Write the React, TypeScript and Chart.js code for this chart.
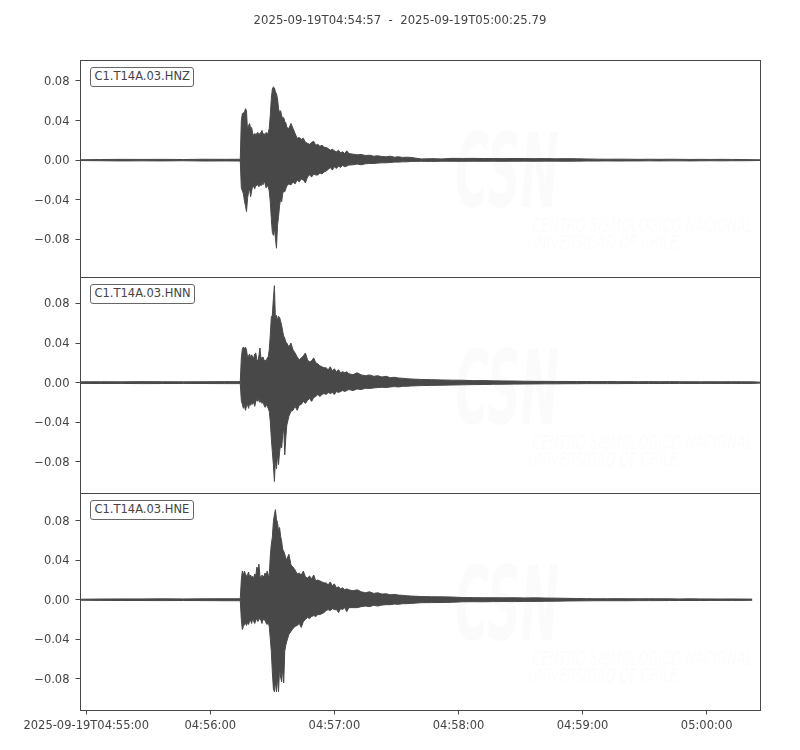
import React, { useEffect, useRef } from "react";
import { Chart, registerables } from "chart.js";

Chart.register(...registerables);

// ---------------- data ----------------
const TITLE = "2025-09-19T04:54:57  -  2025-09-19T05:00:25.79";
const TRACE_NAMES = ["C1.T14A.03.HNZ", "C1.T14A.03.HNN", "C1.T14A.03.HNE"];

// seconds after 2025-09-19T04:54:57
const TIMES = [
  0, 10, 20, 30, 40, 50, 60, 70, 77.5,
  78, 78.5, 79, 79.5, 80, 80.5, 81, 81.5, 82, 82.5,
  83, 83.5, 84, 84.5, 85, 85.5, 86, 86.5, 87, 87.5,
  88, 88.5, 89, 89.5, 90, 90.5, 91, 91.5, 92, 92.5,
  93, 93.5, 94, 94.5, 95, 95.5, 96, 96.5, 97, 97.5,
  98, 98.5, 99, 99.5,
  100, 101, 102, 103, 104, 105, 106, 107, 108, 109,
  110, 111, 112, 113, 114, 115, 116, 117, 118, 119,
  120, 121, 122, 123, 124, 125, 126, 127, 128, 129,
  130,
  132, 134, 136, 138, 140, 142, 144, 146, 148, 150, 152, 154, 156, 158, 160,
  165, 170, 175, 180, 185, 190, 195, 200, 205, 210,
  215, 220, 225, 230, 235, 240, 245, 250, 255, 260,
  265, 270, 275, 280, 285, 290, 295, 300, 305, 310,
  315, 320, 325,
  328.79,
];

// per-time-bin maximum / minimum of each trace
const HNZ_MAX = [
  0.0004, 0.0006, 0.0008, 0.0007, 0.0008, 0.0006, 0.0009, 0.0008, 0.0009,
  0.040, 0.047, 0.048, 0.048, 0.052, 0.050, 0.030, 0.035, 0.037, 0.032,
  0.033, 0.027, 0.025, 0.027, 0.026, 0.027, 0.028, 0.026, 0.027, 0.028,
  0.030, 0.026, 0.027, 0.025, 0.028, 0.026, 0.028, 0.032, 0.045, 0.062,
  0.072, 0.074, 0.073, 0.069, 0.067, 0.062, 0.052, 0.048, 0.050, 0.045,
  0.042, 0.043, 0.039, 0.038,
  0.033, 0.032, 0.037, 0.032, 0.027, 0.022, 0.023, 0.021, 0.022, 0.018,
  0.017, 0.016, 0.018, 0.019, 0.015, 0.016, 0.014, 0.015, 0.013, 0.0128,
  0.0118, 0.010, 0.011, 0.0094, 0.0084, 0.010, 0.0074, 0.0084, 0.0067, 0.0094,
  0.0067,
  0.006, 0.0054, 0.0057, 0.0047, 0.005, 0.004, 0.0044, 0.0037, 0.0034, 0.004, 0.003, 0.0034, 0.0027, 0.003, 0.0027,
  0.0012, 0.0015, 0.0012, 0.0018, 0.0017, 0.0018, 0.0016, 0.0017, 0.0015, 0.0017,
  0.0016, 0.0015, 0.0016, 0.0014, 0.0015, 0.0014, 0.0012, 0.001, 0.0009, 0.001,
  0.0009, 0.0008, 0.0009, 0.0008, 0.0009, 0.0008, 0.0007, 0.0008, 0.0007, 0.0008,
  0.0007, 0.0006, 0.0005,
  0.0003,
];
const HNZ_MIN = [
  -0.0004, -0.0006, -0.0008, -0.0007, -0.0008, -0.0006, -0.0009, -0.0008, -0.0009,
  -0.028, -0.031, -0.034, -0.041, -0.046, -0.052, -0.039, -0.032, -0.029, -0.037,
  -0.031, -0.026, -0.027, -0.029, -0.025, -0.026, -0.024, -0.027, -0.023, -0.026,
  -0.022, -0.025, -0.020, -0.024, -0.028, -0.026, -0.027, -0.031, -0.042, -0.059,
  -0.073, -0.076, -0.069, -0.079, -0.089, -0.066, -0.057, -0.046, -0.039, -0.042,
  -0.034, -0.031, -0.032, -0.029,
  -0.026, -0.024, -0.025, -0.022, -0.024, -0.020, -0.022, -0.019, -0.020, -0.023,
  -0.017, -0.015, -0.017, -0.014, -0.015, -0.015, -0.013, -0.014, -0.012, -0.011,
  -0.0094, -0.0074, -0.010, -0.0067, -0.0084, -0.006, -0.0074, -0.0054, -0.0067, -0.006,
  -0.005,
  -0.0047, -0.004, -0.0047, -0.0037, -0.0034, -0.0034, -0.003, -0.0027, -0.0027, -0.0024, -0.002, -0.002, -0.0017, -0.0017, -0.0013,
  -0.0012, -0.0013, -0.0011, -0.0012, -0.0012, -0.0011, -0.0012, -0.0011, -0.0012, -0.0011,
  -0.001, -0.0011, -0.001, -0.001, -0.0011, -0.001, -0.0009, -0.0009, -0.0008, -0.0009,
  -0.0008, -0.0008, -0.0007, -0.0008, -0.0007, -0.0007, -0.0008, -0.0007, -0.0006, -0.0007,
  -0.0006, -0.0006, -0.0005,
  -0.0003,
];

const HNN_MAX = [
  0.0008, 0.0009, 0.0008, 0.0010, 0.0009, 0.0008, 0.0009, 0.0010, 0.0010,
  0.025, 0.034, 0.036, 0.034, 0.036, 0.033, 0.026, 0.027, 0.029, 0.025,
  0.028, 0.026, 0.025, 0.029, 0.030, 0.023, 0.022, 0.027, 0.035, 0.025,
  0.025, 0.026, 0.022, 0.023, 0.021, 0.025, 0.026, 0.033, 0.048, 0.066,
  0.068, 0.085, 0.098, 0.063, 0.068, 0.063, 0.067, 0.066, 0.062, 0.058,
  0.052, 0.047, 0.045, 0.041,
  0.040, 0.036, 0.040, 0.033, 0.030, 0.026, 0.023, 0.025, 0.027, 0.030,
  0.023, 0.021, 0.022, 0.025, 0.020, 0.019, 0.017, 0.016, 0.015, 0.015,
  0.013, 0.016, 0.012, 0.014, 0.011, 0.013, 0.010, 0.011, 0.010, 0.011,
  0.009,
  0.008, 0.010, 0.0078, 0.007, 0.0078, 0.0064, 0.007, 0.0057, 0.0064, 0.005, 0.0054, 0.0047, 0.0044, 0.004, 0.0037,
  0.0032, 0.003, 0.0027, 0.0025, 0.0024, 0.002, 0.0021, 0.0018, 0.0017, 0.0016,
  0.0014, 0.0013, 0.0013, 0.0012, 0.0012, 0.0011, 0.0011, 0.001, 0.0011, 0.001,
  0.001, 0.0009, 0.001, 0.0009, 0.001, 0.0009, 0.0009, 0.0008, 0.0009, 0.0008,
  0.0009, 0.0008, 0.0008,
  0.0005,
];
const HNN_MIN = [
  -0.0008, -0.0009, -0.0008, -0.0010, -0.0009, -0.0008, -0.0009, -0.0010, -0.0010,
  -0.018, -0.022, -0.026, -0.023, -0.028, -0.024, -0.022, -0.026, -0.021, -0.023,
  -0.020, -0.022, -0.019, -0.024, -0.019, -0.017, -0.019, -0.016, -0.020, -0.018,
  -0.021, -0.019, -0.023, -0.025, -0.022, -0.024, -0.026, -0.029, -0.039, -0.056,
  -0.070, -0.083, -0.100, -0.078, -0.087, -0.073, -0.083, -0.070, -0.063, -0.066,
  -0.053, -0.046, -0.073, -0.056,
  -0.043, -0.034, -0.029, -0.028, -0.024, -0.028, -0.023, -0.022, -0.019, -0.021,
  -0.018, -0.016, -0.019, -0.015, -0.014, -0.012, -0.014, -0.012, -0.011, -0.012,
  -0.010, -0.011, -0.010, -0.012, -0.009, -0.010, -0.009, -0.008, -0.009, -0.008,
  -0.007,
  -0.008, -0.0064, -0.007, -0.0057, -0.006, -0.0054, -0.005, -0.0047, -0.005, -0.0044, -0.004, -0.0044, -0.0037, -0.0037, -0.0034,
  -0.003, -0.0028, -0.0026, -0.0024, -0.0022, -0.002, -0.0019, -0.0017, -0.0016, -0.0015,
  -0.0014, -0.0013, -0.0012, -0.0012, -0.0011, -0.0011, -0.001, -0.001, -0.001, -0.001,
  -0.0009, -0.0009, -0.0009, -0.0009, -0.0009, -0.0008, -0.0009, -0.0008, -0.0008, -0.0008,
  -0.0008, -0.0008, -0.0008,
  -0.0005,
];

const HNE_MAX = [
  0.0005, 0.0007, 0.0008, 0.0008, 0.0009, 0.0008, 0.0009, 0.0010, 0.0010,
  0.020, 0.029, 0.025, 0.029, 0.026, 0.024, 0.025, 0.028, 0.023, 0.025,
  0.022, 0.024, 0.021, 0.026, 0.024, 0.033, 0.030, 0.036, 0.024, 0.022,
  0.025, 0.023, 0.024, 0.027, 0.024, 0.029, 0.025, 0.024, 0.044, 0.056,
  0.063, 0.079, 0.086, 0.091, 0.081, 0.078, 0.069, 0.073, 0.064, 0.059,
  0.051, 0.049, 0.046, 0.042,
  0.041, 0.046, 0.035, 0.033, 0.030, 0.026, 0.027, 0.025, 0.029, 0.023,
  0.022, 0.024, 0.021, 0.025, 0.019, 0.020, 0.019, 0.018, 0.017, 0.017,
  0.015, 0.018, 0.014, 0.016, 0.012, 0.013, 0.011, 0.012, 0.010, 0.011,
  0.010,
  0.009, 0.010, 0.008, 0.007, 0.008, 0.0064, 0.007, 0.0057, 0.006, 0.005, 0.0054, 0.0047, 0.0044, 0.004, 0.0037,
  0.0032, 0.003, 0.0029, 0.0027, 0.0022, 0.0021, 0.002, 0.002, 0.0019, 0.002,
  0.0018, 0.0019, 0.0017, 0.0016, 0.0014, 0.0012, 0.0011, 0.001, 0.001, 0.0011,
  0.001, 0.0009, 0.001, 0.0009, 0.0009, 0.0008, 0.0009, 0.0008, 0.0008, 0.0007,
  0.0008, 0.0007, 0.0006,
  null,
];
const HNE_MIN = [
  -0.0005, -0.0007, -0.0008, -0.0008, -0.0009, -0.0008, -0.0009, -0.0010, -0.0010,
  -0.020, -0.030, -0.027, -0.025, -0.024, -0.026, -0.023, -0.025, -0.022, -0.021,
  -0.024, -0.019, -0.022, -0.024, -0.021, -0.019, -0.022, -0.020, -0.019, -0.021,
  -0.024, -0.019, -0.021, -0.020, -0.024, -0.025, -0.023, -0.027, -0.039, -0.052,
  -0.073, -0.090, -0.093, -0.083, -0.093, -0.079, -0.093, -0.069, -0.078, -0.083,
  -0.069, -0.084, -0.052, -0.046,
  -0.042, -0.035, -0.032, -0.029, -0.027, -0.026, -0.024, -0.028, -0.022, -0.020,
  -0.018, -0.019, -0.017, -0.016, -0.017, -0.015, -0.015, -0.014, -0.013, -0.011,
  -0.010, -0.011, -0.009, -0.010, -0.010, -0.013, -0.009, -0.010, -0.008, -0.012,
  -0.008,
  -0.008, -0.008, -0.007, -0.0064, -0.007, -0.0057, -0.0064, -0.0054, -0.005, -0.005, -0.0044, -0.0047, -0.004, -0.004, -0.0037,
  -0.003, -0.0029, -0.0028, -0.0026, -0.0021, -0.002, -0.0021, -0.0019, -0.0018, -0.0019,
  -0.0017, -0.0017, -0.0016, -0.0015, -0.0013, -0.0012, -0.0011, -0.001, -0.001, -0.001,
  -0.001, -0.0009, -0.0009, -0.0009, -0.0008, -0.0008, -0.0008, -0.0008, -0.0007, -0.0007,
  -0.0007, -0.0007, -0.0006,
  null,
];

const X_MAX = 328.79;
const X_TICK_SECONDS = [3, 63, 123, 183, 243, 303];
const X_TICK_LABELS = ["2025-09-19T04:55:00", "04:56:00", "04:57:00", "04:58:00", "04:59:00", "05:00:00"];
const Y_TICKS = [-0.08, -0.04, 0, 0.04, 0.08];
const Y_MIN = [-0.1181, -0.1116, -0.1114];
const Y_MAX = [0.1012, 0.1068, 0.1078];

// ---------------- styling / layout ----------------
const INK = "#484848";
const TEXT = "#444444";
const FONT = "'DejaVu Sans', sans-serif";
const FONT_SIZE = 11.5;
const TITLE_SIZE = 11.7;
const PANEL_TOP = [60, 277, 493];
const PANEL_BOTTOM = [277, 493, 710];
const AXIS_W = 60;
const LEFT_PAD = 20;
const RIGHT_PAD = 40;
const XAXIS_H = 30;

const TRACES = [
  { name: TRACE_NAMES[0], max: HNZ_MAX, min: HNZ_MIN },
  { name: TRACE_NAMES[1], max: HNN_MAX, min: HNN_MIN },
  { name: TRACE_NAMES[2], max: HNE_MAX, min: HNE_MIN },
];

const fmtY = (v: number) => {
  const s = Math.abs(v).toFixed(2);
  return v < -1e-9 ? "\u2212" + s : s;
};

const framePlugin = {
  id: "frame",
  afterDatasetsDraw(chart: any) {
    const { ctx, chartArea } = chart;
    const l = Math.round(chartArea.left) + 0.5;
    const t = Math.round(chartArea.top) + 0.5;
    const r = Math.round(chartArea.right) + 0.5;
    const b = Math.round(chartArea.bottom) + 0.5;
    ctx.save();
    ctx.strokeStyle = INK;
    ctx.lineWidth = 1;
    ctx.strokeRect(l, t, r - l, b - t);
    ctx.restore();
  },
};

const watermarkPlugin = {
  id: "watermark",
  beforeDatasetsDraw(chart: any) {
    const { ctx, chartArea } = chart;
    const x0 = chartArea.left;
    const y0 = chartArea.top;
    ctx.save();
    ctx.fillStyle = "rgba(0,0,0,0.014)";
    ctx.textBaseline = "alphabetic";
    ctx.textAlign = "left";
    ctx.font = `italic bold 104px ${FONT}`;
    ctx.fillText("CSN", x0 + 375, y0 + 147, 104);
    ctx.font = `italic 19px ${FONT}`;
    ctx.fillText("CENTRO SISMOLÓGICO NACIONAL", x0 + 452, y0 + 172, 221);
    ctx.fillText("UNIVERSIDAD DE CHILE", x0 + 448, y0 + 189, 150);
    ctx.restore();
  },
};

function makeConfig(i: number): any {
  const tr = TRACES[i];
  const isLast = i === TRACES.length - 1;
  const top = PANEL_TOP[i];
  const bottom = 750 - PANEL_BOTTOM[i] - (isLast ? XAXIS_H : 0);
  return {
    type: "line",
    data: {
      datasets: [
        {
          data: TIMES.map((t, j) => ({ x: t, y: tr.max[j] })),
          borderColor: INK,
          backgroundColor: INK,
          borderWidth: 1,
          pointRadius: 0,
          tension: 0,
          fill: "+1",
        },
        {
          data: TIMES.map((t, j) => ({ x: t, y: tr.min[j] })),
          borderColor: INK,
          backgroundColor: INK,
          borderWidth: 1,
          pointRadius: 0,
          tension: 0,
          fill: false,
        },
      ],
    },
    options: {
      animation: false,
      responsive: false,
      events: [],
      layout: { padding: { left: LEFT_PAD, right: RIGHT_PAD, top, bottom } },
      plugins: {
        legend: { display: false },
        tooltip: { enabled: false },
        title: { display: false },
      },
      scales: {
        x: {
          type: "linear",
          min: 0,
          max: X_MAX,
          display: isLast,
          afterBuildTicks: (s: any) => {
            s.ticks = X_TICK_SECONDS.map((v) => ({ value: v }));
          },
          afterFit: (s: any) => {
            s.height = isLast ? XAXIS_H : 0;
          },
          grid: { drawOnChartArea: false, drawTicks: true, tickLength: 4.5, color: INK, lineWidth: 1 },
          border: { display: true, color: INK, width: 1 },
          ticks: {
            autoSkip: false,
            maxRotation: 0,
            minRotation: 0,
            padding: 4.5,
            color: TEXT,
            font: { family: FONT, size: FONT_SIZE },
            callback: (v: number) => {
              const k = X_TICK_SECONDS.indexOf(v);
              return k >= 0 ? X_TICK_LABELS[k] : "";
            },
          },
        },
        y: {
          type: "linear",
          min: Y_MIN[i],
          max: Y_MAX[i],
          afterBuildTicks: (s: any) => {
            s.ticks = Y_TICKS.map((v) => ({ value: v }));
          },
          afterFit: (s: any) => {
            s.width = AXIS_W;
          },
          grid: { drawOnChartArea: false, drawTicks: true, tickLength: 4.5, color: INK, lineWidth: 1 },
          border: { display: true, color: INK, width: 1 },
          ticks: {
            padding: 6,
            labelOffset: 1,
            color: TEXT,
            font: { family: FONT, size: FONT_SIZE },
            callback: (v: number) => fmtY(v),
          },
        },
      },
    },
    plugins: [watermarkPlugin, framePlugin],
  };
}

export default function App() {
  const r0 = useRef<HTMLCanvasElement>(null);
  const r1 = useRef<HTMLCanvasElement>(null);
  const r2 = useRef<HTMLCanvasElement>(null);
  const refs = [r0, r1, r2];

  useEffect(() => {
    const charts = refs.map((r, i) => new Chart(r.current as HTMLCanvasElement, makeConfig(i)));
    return () => charts.forEach((c) => c.destroy());
  }, []);

  return (
    <div
      style={{
        position: "absolute",
        left: 0,
        top: 0,
        width: 800,
        height: 750,
        background: "#ffffff",
        fontFamily: FONT,
        overflow: "hidden",
      }}
    >
      {refs.map((r, i) => (
        <canvas key={i} ref={r} width={800} height={750} style={{ position: "absolute", left: 0, top: 0 }} />
      ))}
      <div
        style={{
          position: "absolute",
          left: 0,
          top: 13,
          width: 800,
          textAlign: "center",
          fontSize: TITLE_SIZE,
          lineHeight: "14px",
          color: TEXT,
          whiteSpace: "pre",
        }}
      >
        {TITLE}
      </div>
      {TRACES.map((tr, i) => (
        <div
          key={tr.name}
          style={{
            position: "absolute",
            left: 90,
            top: PANEL_TOP[i] + 7,
            padding: "0 3.5px",
            border: "1px solid #666",
            borderRadius: 3,
            background: "#fff",
            fontSize: FONT_SIZE,
            lineHeight: "17.7px",
            color: TEXT,
            whiteSpace: "pre",
          }}
        >
          {tr.name}
        </div>
      ))}
    </div>
  );
}
